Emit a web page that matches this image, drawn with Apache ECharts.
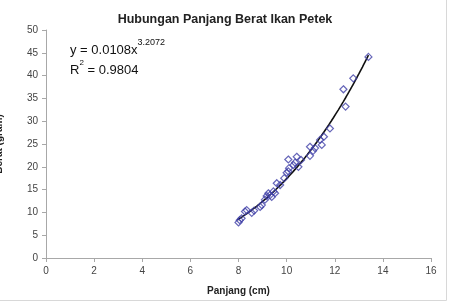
<!DOCTYPE html>
<html><head><meta charset="utf-8">
<script src="https://cdn.jsdelivr.net/npm/echarts@6/dist/echarts.min.js"></script>
<style>html,body{margin:0;padding:0;background:#fff}#c{width:454px;height:302px}</style>
</head><body><div id="c"></div>
<script>
var panjang = [8.0, 8.05, 8.13, 8.27, 8.34, 8.55, 8.65, 8.9, 8.97, 9.1, 9.17, 9.24, 9.31, 9.38, 9.45, 9.52, 9.59, 9.73, 9.9, 10.0, 10.07, 10.07, 10.1, 10.28, 10.35, 10.42, 10.49, 10.6, 10.97, 10.97, 11.1, 11.18, 11.39, 11.46, 11.55, 11.8, 12.36, 12.45, 12.77, 13.4];
var berat = [7.8, 8.3, 8.7, 10.2, 10.5, 9.9, 10.4, 11.2, 11.6, 12.8, 13.6, 14.2, 13.8, 13.4, 14.6, 14.2, 16.4, 16.0, 17.5, 18.7, 19.0, 21.6, 19.7, 20.4, 20.9, 22.2, 20.0, 21.5, 24.4, 22.4, 23.5, 24.1, 25.9, 24.8, 26.6, 28.4, 37.0, 33.2, 39.4, 44.1];
var coefA = 0.0108, coefB = 3.2072, r2 = 0.9804;
var xTicks = [0, 2, 4, 6, 8, 10, 12, 14, 16];
var yTicks = [0, 5, 10, 15, 20, 25, 30, 35, 40, 45, 50];

var pts = panjang.map(function (x, i) { return [x, berat[i]]; });
var trend = [];
for (var x = 7.95; x <= 13.45; x += 0.05) trend.push([x, coefA * Math.pow(x, coefB)]);

var chart = echarts.init(document.getElementById('c'));
var axisCommon = {
  axisLine: { show: true, lineStyle: { color: '#a8a8a8', width: 1 } },
  axisTick: { show: true, length: 4, lineStyle: { color: '#a8a8a8' } },
  splitLine: { show: false },
  axisLabel: { color: '#444', fontSize: 10, fontFamily: 'Liberation Sans, Arial' }
};
chart.setOption({
  animation: false,
  title: {
    text: 'Hubungan Panjang Berat Ikan Petek',
    left: 220, top: 8, textAlign: 'center',
    textStyle: { fontSize: 12.5, fontWeight: 'bold', color: '#222', fontFamily: 'Liberation Sans, Arial' }
  },
  grid: { left: 46, right: 23, top: 30, bottom: 44, containLabel: false, outerBoundsMode: 'none' },
  xAxis: Object.assign({}, axisCommon, {
    type: 'value', min: xTicks[0], max: xTicks[xTicks.length - 1], interval: 2,
    name: 'Panjang (cm)', nameLocation: 'middle', nameGap: 28,
    nameTextStyle: { fontSize: 10, fontWeight: 'bold', color: '#222', fontFamily: 'Liberation Sans, Arial' },
    axisLabel: Object.assign({}, axisCommon.axisLabel, { margin: 8 })
  }),
  yAxis: Object.assign({}, axisCommon, {
    type: 'value', min: yTicks[0], max: yTicks[yTicks.length - 1], interval: 5,
    name: 'Berat (gram)', nameLocation: 'middle', nameGap: 42, nameRotate: 90,
    nameTextStyle: { fontSize: 10, fontWeight: 'bold', color: '#222', fontFamily: 'Liberation Sans, Arial' },
    axisLabel: Object.assign({}, axisCommon.axisLabel, { margin: 8 })
  }),
  graphic: [
    { type: 'rect', shape: { x: -1, y: -1, width: 447.5, height: 301.5 }, style: { fill: 'none', stroke: '#d8d8d8', lineWidth: 1 }, silent: true, z: -1 },
    { type: 'text', left: 70, top: 38, style: {
        text: '{b|y = 0.0108x}{s|3.2072}', rich: {
          b: { fontSize: 13, fontFamily: 'Liberation Sans, Arial', fill: '#111', padding: [10, 0, 0, 0] },
          s: { fontSize: 9, fontFamily: 'Liberation Sans, Arial', fill: '#111', padding: [0, 0, 6, 0] }
        } } },
    { type: 'text', left: 70, top: 59, style: {
        text: '{b|R}{s|2}{b| = 0.9804}', rich: {
          b: { fontSize: 13, fontFamily: 'Liberation Sans, Arial', fill: '#111', padding: [8, 0, 0, 0] },
          s: { fontSize: 8, fontFamily: 'Liberation Sans, Arial', fill: '#111', padding: [0, 0, 6, 0] }
        } } }
  ],
  series: [
    { type: 'line', data: trend, showSymbol: false, symbol: 'none', smooth: false,
      lineStyle: { color: '#111', width: 1.6 }, z: 2 },
    { type: 'scatter', data: pts, symbol: 'diamond', symbolSize: 7,
      itemStyle: { color: 'rgba(255,255,255,0)', borderColor: '#4040a8', borderWidth: 1.2 }, z: 3 }
  ]
});
</script></body></html>
